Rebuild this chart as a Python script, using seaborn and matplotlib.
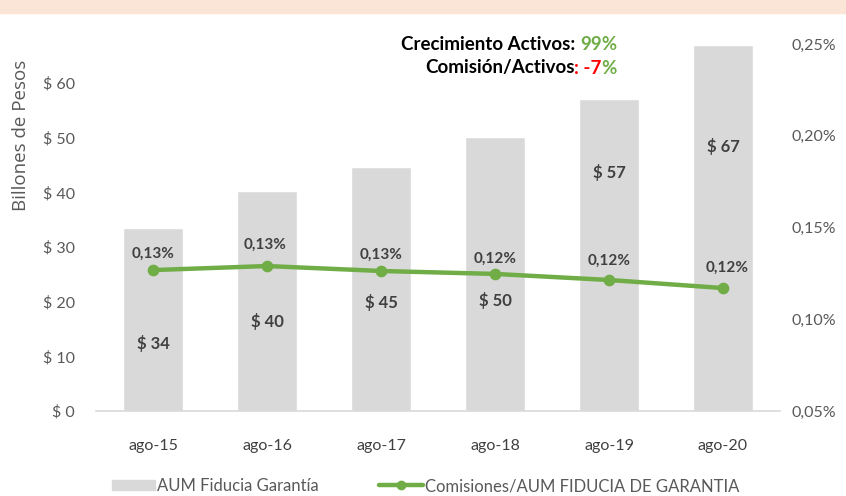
import matplotlib
matplotlib.use('Agg')
import matplotlib.pyplot as plt
import matplotlib.patches as mpatches
import matplotlib.lines as mlines
import pandas as pd
import seaborn as sns

# Data
periods = ['ago-15', 'ago-16', 'ago-17', 'ago-18', 'ago-19', 'ago-20']
aum = [33.5, 40.2, 44.6, 50.1, 57.1, 66.9]             # billones de pesos
aum_labels = ['$ 34', '$ 40', '$ 45', '$ 50', '$ 57', '$ 67']
aum_label_y = [12.3, 16.3, 19.9, 20.3, 43.7, 48.3]     # where Excel placed the labels
comision = [0.1268, 0.1290, 0.1263, 0.1247, 0.1214, 0.1170]   # % of AUM
comision_labels = ['0,13%', '0,13%', '0,13%', '0,12%', '0,12%', '0,12%']
comision_offsets = [(0, 16), (-2, 21), (0, 16), (0, 15), (0, 19), (4, 20)]

GRAY_BAR = '#D9D9D9'
GREEN = '#70AD47'
TXT = '#595959'
DARK = '#404040'

sns.set_theme(style='white')
plt.rcParams['font.family'] = ['Lato', 'DejaVu Sans']

df = pd.DataFrame({'periodo': periods, 'aum': aum, 'comision': comision})

fig = plt.figure(figsize=(8.46, 4.96), dpi=100)
fig.patches.append(mpatches.Rectangle((0, 1 - 13 / 496), 1, 13 / 496, transform=fig.transFigure,
                                      color='#FBE5D6', zorder=0))
ax = fig.add_axes([96 / 846, (496 - 411) / 496, 684 / 846, 367 / 496])

sns.barplot(data=df, x='periodo', y='aum', color=GRAY_BAR, width=0.52, saturation=1, ax=ax)
ax.set_ylim(0, 67.13)
ax.set_yticks(range(0, 70, 10))
ax.set_yticklabels([f'$ {v}' for v in range(0, 70, 10)])
ax.tick_params(axis='y', length=0, pad=15, labelsize=11.5, labelcolor=TXT)
ax.tick_params(axis='x', length=0, pad=20, labelsize=11.5, labelcolor=DARK)
ax.set_xlabel('')
ax.set_ylabel('Billones de Pesos', fontsize=13.5, color=TXT, family=['Open Sans', 'DejaVu Sans'])
ax.yaxis.set_label_coords(-0.097, 0.75)
for s in ['top', 'right', 'left']:
    ax.spines[s].set_visible(False)
ax.spines['bottom'].set_color(GRAY_BAR)
ax.spines['bottom'].set_linewidth(1.2)

for i, (lab, yy) in enumerate(zip(aum_labels, aum_label_y)):
    ax.text(i, yy, lab, ha='center', va='center', fontsize=12, fontweight='bold', color=DARK)

ax2 = ax.twinx()
sns.pointplot(data=df, x='periodo', y='comision', color=GREEN, markers='o',
              markersize=6, linewidth=3.2, ax=ax2)
ax2.set_ylim(0.05, 0.25)
ax2.set_xlim(-0.5, 5.5)
ax2.set_yticks([0.05, 0.10, 0.15, 0.20, 0.25])
ax2.set_yticklabels([f'{v:.2f}%'.replace('.', ',') for v in [0.05, 0.10, 0.15, 0.20, 0.25]])
ax2.tick_params(axis='y', length=0, pad=8, labelsize=11.5, labelcolor=TXT)
ax2.set_ylabel('')
ax2.set_xlabel('')
for s in ax2.spines.values():
    s.set_visible(False)

for i, (lab, off) in enumerate(zip(comision_labels, comision_offsets)):
    ax2.annotate(lab, (i, comision[i]), xytext=off, textcoords='offset pixels',
                 ha='center', va='center', fontsize=11, fontweight='bold', color=DARK)


# multicolour summary text, built right to left
def chain(pieces, x, y, size=13.5):
    txt, col = pieces[-1]
    last = fig.text(x, y, txt, ha='right', va='center', fontsize=size,
                    fontweight='bold', color=col)
    for txt, col in reversed(pieces[:-1]):
        last = ax.annotate(txt, xy=(0, 0), xycoords=last, ha='right', va='bottom',
                           fontsize=size, fontweight='bold', color=col,
                           annotation_clip=False)


chain([('Crecimiento Activos: ', 'black'), ('99%', GREEN)], 617 / 846, 1 - 44 / 496)
chain([('Comisión/Activos', 'black'), (': -7', 'red'), ('%', GREEN)], 617 / 846, 1 - 68 / 496)

h_bar = mpatches.Patch(color=GRAY_BAR, label='AUM Fiducia Garantía')
h_line = mlines.Line2D([], [], color=GREEN, lw=3.2, marker='o', markersize=6,
                       label='Comisiones/AUM FIDUCIA DE GARANTIA')
fig.legend(handles=[h_bar, h_line], loc='center', bbox_to_anchor=(0.503, 1 - 486 / 496),
           ncol=2, frameon=False, fontsize=12, labelcolor=TXT, handlelength=2.6,
           handleheight=0.6, handletextpad=0.15, columnspacing=3.6)

fig.savefig('out.png', dpi=100)
